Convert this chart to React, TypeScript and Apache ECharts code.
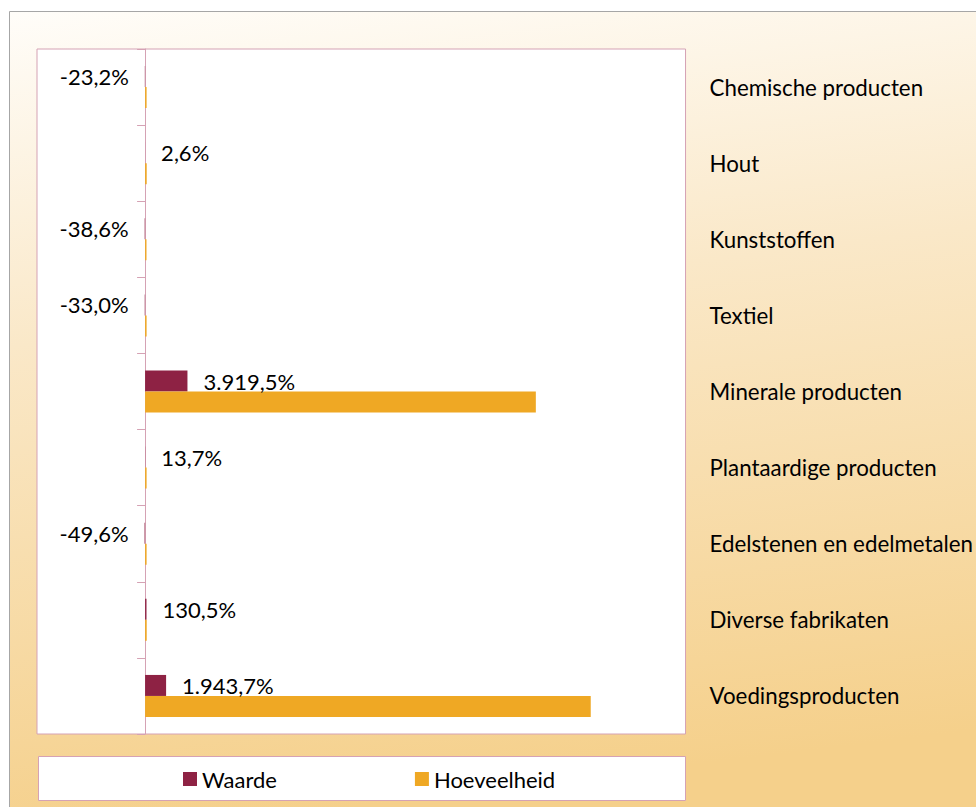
import React, { useEffect, useRef } from "react";
import * as echarts from "echarts";

const categories = [
  "Chemische producten",
  "Hout",
  "Kunststoffen",
  "Textiel",
  "Minerale producten",
  "Plantaardige producten",
  "Edelstenen en edelmetalen",
  "Diverse fabrikaten",
  "Voedingsproducten",
];
const waarde = [-23.2, 2.6, -38.6, -33.0, 3919.5, 13.7, -49.6, 130.5, 1943.7];
const hoeveelheid = [140, 150, 130, 140, 36150, 140, 140, 150, 41230];
const seriesNames = ["Waarde", "Hoeveelheid"];

const FONT = "Lato";

function fmtPct(v: number): string {
  const neg = v < 0;
  const abs = Math.abs(v);
  const fixed = abs.toFixed(1);
  const [intPart, dec] = fixed.split(".");
  const withSep = intPart.replace(/\B(?=(\d{3})+(?!\d))/g, ".");
  return (neg ? "-" : "") + withSep + "," + dec + "%";
}

export default function App() {
  const ref = useRef<HTMLDivElement>(null);
  useEffect(() => {
    if (!ref.current) return;
    const chart = echarts.init(ref.current, undefined, { renderer: "svg" });
    const pink = "#d5a2b4";
    chart.setOption({
      animation: false,
      backgroundColor: "#ffffff",
      textStyle: { fontFamily: FONT },
      graphic: [
        {
          type: "rect",
          z: -10,
          shape: { x: 9.5, y: 11.5, width: 990, height: 820 },
          style: {
            fill: new echarts.graphic.LinearGradient(0, 0, 0.15, 1, [
              { offset: 0, color: "#fffdf9" },
              { offset: 0.4, color: "#fae8c8" },
              { offset: 1, color: "#f5d08b" },
            ]),
            stroke: "#a6a6a6",
            lineWidth: 1,
          },
        },
        {
          type: "rect",
          z: -5,
          shape: { x: 38.5, y: 756.5, width: 647, height: 44 },
          style: { fill: "#ffffff", stroke: pink, lineWidth: 1 },
        },
      ],
      legend: {
        left: 178,
        top: 763,
        itemWidth: 14,
        itemHeight: 14,
        itemGap: 138,
        icon: "rect",
        data: seriesNames,
        textStyle: { fontFamily: FONT, fontSize: 22, color: "#000" },
      },
      grid: {
        left: 37,
        top: 49,
        width: 649,
        height: 685,
        show: true,
        backgroundColor: "#ffffff",
        borderColor: pink,
        borderWidth: 1,
      },
      xAxis: {
        type: "value",
        min: -10000,
        max: 50000,
        interval: 10000,
        axisLine: { show: false },
        axisTick: { show: false },
        axisLabel: { show: false },
        splitLine: { show: false },
      },
      yAxis: [
        {
          type: "category",
          inverse: true,
          data: categories,
          axisLine: { show: true, onZero: true, lineStyle: { color: pink } },
          axisTick: { show: true, length: 8, lineStyle: { color: pink } },
          axisLabel: { show: false },
          splitLine: { show: false },
        },
        {
          type: "category",
          inverse: true,
          position: "right",
          data: categories,
          axisLine: { show: false, onZero: false },
          axisTick: { show: false },
          axisLabel: {
            show: true,
            margin: 24,
            color: "#000",
            fontFamily: FONT,
            fontSize: 22.3,
            align: "left",
          },
          splitLine: { show: false },
        },
      ],
      series: [
        {
          name: seriesNames[0],
          type: "bar",
          barWidth: 21,
          barGap: "0%",
          itemStyle: { color: "#8e2244" },
          data: waarde.map((v) => ({
            value: v,
            label: { position: v < 0 ? "left" : "right" },
          })),
          label: {
            show: true,
            distance: 16,
            color: "#000",
            fontFamily: FONT,
            fontSize: 22,
            formatter: (p: any) => fmtPct(p.value),
          },
        },
        {
          name: seriesNames[1],
          type: "bar",
          barWidth: 21,
          barGap: "0%",
          itemStyle: { color: "#efa824" },
          data: hoeveelheid,
        },
      ],
    });
    return () => chart.dispose();
  }, []);
  return (
    <div
      ref={ref}
      style={{ position: "fixed", left: 0, top: 0, width: 976, height: 807 }}
    />
  );
}
